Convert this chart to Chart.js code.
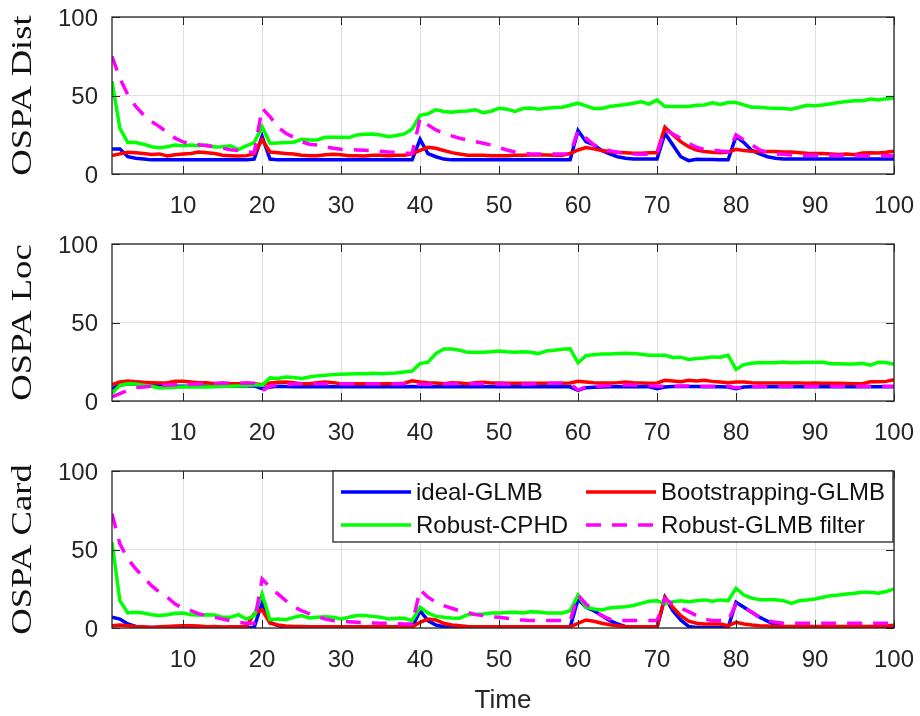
<!DOCTYPE html>
<html>
<head>
<meta charset="utf-8">
<script src="https://cdn.jsdelivr.net/npm/chart.js@4.4.1/dist/chart.umd.min.js"></script>
<style>
  html, body { margin: 0; padding: 0; background: #fff; }
  #wrap { position: relative; width: 920px; height: 716px; }
  .panel { position: absolute; left: 0; width: 920px; }
</style>
</head>
<body>
<div id="wrap">
  <div class="panel" style="top:0;height:227px"><canvas id="distChart"></canvas></div>
  <div class="panel" style="top:227px;height:227px"><canvas id="locChart"></canvas></div>
  <div class="panel" style="top:454px;height:262px"><canvas id="cardChart"></canvas></div>
</div>
<script>
// time steps 1..100
const timeSteps = Array.from({ length: 100 }, (_, i) => i + 1);
const xTicks = [10, 20, 30, 40, 50, 60, 70, 80, 90, 100];
const yTicks = [0, 50, 100];

const seriesNames = ['ideal-GLMB', 'Bootstrapping-GLMB', 'Robust-CPHD', 'Robust-GLMB filter'];
const seriesColors = ['#0000ff', '#ff0000', '#00ff00', '#ff00ff'];

// OSPA Dist
const distIdeal = [
  16, 16, 11, 10, 9.5, 9, 9, 9, 9, 9,
  9, 9, 9, 9, 9, 9, 9, 9, 9.5, 24,
  9.5, 9, 9, 9, 9, 9, 9, 9, 9, 9,
  9, 9, 9, 9, 9, 9, 9, 9, 9, 22,
  13, 11, 9.5, 9, 9, 9, 9, 9, 9, 9,
  9, 9, 9, 9, 9, 9, 9, 9, 9, 27.7,
  20.6, 18.5, 15, 12.8, 11, 10, 9.5, 9.5, 9.5, 9.5,
  26, 18.5, 11, 8.5, 9.4, 9.3, 9.2, 9, 9, 24,
  20, 15, 12.8, 11, 10, 9.5, 9.5, 9.5, 9.5, 9.5,
  9.5, 9.5, 9.5, 9.5, 9.5, 9.5, 9.5, 9.5, 9.5, 9.5
];
const distBoot = [
  11.7, 12.8, 13.8, 13.6, 13, 12.5, 12.8, 11.5, 12.3, 12.8,
  13, 14, 13.6, 13, 12, 11.7, 11.5, 11.7, 12.8, 22,
  14, 13.6, 13, 12.8, 12, 11.7, 11.7, 12.3, 12.5, 12.3,
  11.7, 11.7, 11.5, 11.9, 12, 11.7, 12, 11.9, 12.8, 15,
  17, 16.4, 15, 13.6, 12.8, 12, 11.9, 11.9, 11.7, 11.7,
  11.7, 11.9, 12, 12.1, 12.3, 12.1, 11.9, 12, 13, 15.3,
  16.8, 16, 14.9, 14.3, 13.8, 13.6, 13.2, 13.2, 13.6, 13.6,
  29.8, 25, 20.6, 17.4, 15.3, 14.3, 13.8, 13.6, 14, 15.7,
  14.9, 14.5, 14.3, 14.3, 14.3, 14, 14, 13.6, 13.2, 13,
  13, 12.8, 12.5, 12.8, 12.3, 13.4, 13.6, 13.4, 13.8, 14.5
];
const distCphd = [
  59, 29, 20, 20, 19, 17.4, 16.8, 17.4, 18.5, 18,
  18.5, 18, 18.5, 17.2, 17.4, 18, 15.5, 17.9, 20, 30.2,
  19.6, 19.8, 20, 20.2, 22.1, 21.7, 21.7, 23.4, 23.4, 23.4,
  23.2, 24.9, 25.3, 25.5, 24.9, 23.8, 24.5, 25.5, 28.7, 37.4,
  38.3, 40.9, 39.8, 39.4, 40, 40.2, 40.9, 39.1, 40, 41.9,
  41.3, 39.8, 41.7, 42, 41.3, 41.9, 42.3, 42.5, 43.8, 45.1,
  43.4, 41.7, 41.7, 43, 43.6, 44.3, 45.1, 46, 44.5, 47.2,
  43, 43, 43, 43, 43.8, 44, 45.3, 44.3, 45.5, 45.5,
  44, 42.5, 42.5, 42.1, 41.9, 41.7, 41.3, 42.5, 43.8, 43.4,
  44, 44.7, 45.5, 46.2, 46.6, 46.6, 47.7, 47.2, 47.9, 48.3
];
const distRobust = [
  74.9, 61, 50.4, 43, 37.7, 33.4, 30.2, 26.4, 22.8, 20.4,
  19, 18.7, 18, 17.4, 16.4, 15.5, 14.9, 14.3, 13.6, 41.9,
  36.6, 29.8, 26, 23.4, 20.6, 19, 18.5, 17.4, 16.4, 15.7,
  15.5, 15.3, 15.1, 14.9, 14.5, 14, 13.8, 13.2, 13.2, 35.5,
  31.3, 28.1, 26, 24.3, 22.8, 21.7, 20.6, 19.6, 18.5, 16.8,
  15.3, 14, 13.2, 12.8, 12.8, 12.8, 12.8, 12.8, 12.8, 27.7,
  22.8, 18.5, 16.4, 14.9, 13.8, 13.2, 12.8, 12.6, 12.6, 12.8,
  28.1, 25.5, 22.8, 19.6, 17, 15.7, 15.3, 14.7, 14.3, 24.9,
  21.7, 18.5, 15.3, 13.6, 12.8, 12.6, 12.1, 12, 12, 11.9,
  11.9, 11.9, 11.8, 11.8, 11.8, 11.7, 11.7, 11.7, 11.7, 11.7
];

// OSPA Loc
const locIdeal = [
  7.9, 10, 11, 10.6, 10.2, 10, 9.8, 9.6, 9.4, 9.4,
  9.4, 9.4, 9.4, 9.4, 9.4, 9.4, 9.4, 9.4, 9.6, 7.9,
  8.9, 9.4, 9.2, 9, 9, 9, 9, 9, 9, 9,
  9, 9, 9, 9, 9, 9, 9, 9, 9.2, 9,
  9, 9, 9, 9, 9, 9, 9, 9, 9, 9,
  9, 9, 9, 9, 9, 9, 9, 9, 9, 6.8,
  8.5, 8.7, 8.9, 9, 9, 9, 9, 9, 9, 7.9,
  8.9, 9.2, 9.2, 9.2, 9.2, 9, 9, 9, 8.9, 7.9,
  8.9, 9, 9, 9, 9, 9, 9, 9, 9, 9,
  9, 9, 9, 9, 9, 9, 9, 9, 9, 9
];
const locBoot = [
  10.4, 12.1, 12.8, 12.3, 11.9, 11.7, 11.5, 11.7, 12.6, 12.6,
  12.1, 11.7, 11.7, 11, 11.5, 11, 11, 11.5, 11, 10.4,
  11.5, 11.9, 12.1, 11.7, 11, 11, 11.7, 12.1, 11.7, 11,
  11, 11, 11, 11, 11, 11, 11, 11.3, 12.8, 12.1,
  11.7, 11.5, 11, 11.7, 11.5, 11, 11.7, 11.9, 11.5, 11.5,
  11.3, 11.3, 11.3, 11.3, 11.3, 11.3, 11.3, 11.3, 11.5, 12.5,
  12.1, 11.7, 11.5, 11.5, 11.7, 12.1, 11.7, 11.5, 11.3, 11.5,
  13.2, 12.8, 12.3, 13.2, 12.8, 13.2, 12.5, 12.1, 11.7, 12.1,
  12.1, 11.7, 11.5, 11.5, 11.5, 11.5, 11.5, 11.5, 11.3, 11.5,
  11.3, 11.3, 11.3, 11.1, 11, 11, 12.3, 12.3, 12.5, 13.6
];
const locCphd = [
  4.7, 10, 11, 10.8, 10, 9.4, 8.3, 8.5, 8.7, 8.9,
  9.1, 8.9, 8.9, 9.1, 9.4, 9.4, 9.6, 9.6, 10.4, 10,
  14.7, 14.3, 15.3, 14.9, 14.3, 15.3, 16, 16.4, 16.8, 17,
  17.2, 17.4, 17.4, 17.6, 17.4, 17.6, 17.9, 18.5, 19.1, 23.8,
  24.7, 30.2, 33.2, 33.2, 32.3, 31, 31, 31, 31.3, 31.9,
  31.3, 31, 31.3, 31.1, 30.2, 31.9, 32.3, 33, 33.2, 24.3,
  28.9, 29.4, 30, 30, 30.2, 30.4, 30.2, 29.8, 29.1, 29.1,
  29.1, 27.7, 27.9, 26.4, 27, 27.4, 28.1, 27.9, 29.1, 20.2,
  23.2, 24, 24.5, 24.3, 24.3, 24.9, 24.3, 24.5, 24.7, 24.7,
  24.7, 23.8, 23.8, 23.6, 23.6, 24, 22.8, 24.7, 24.5, 23.4
];
const locRobust = [
  2.6, 4.7, 6.8, 8.5, 8.9, 9.4, 10, 10.2, 10.4, 10.4,
  10.6, 10.8, 11, 11.1, 11.3, 11.3, 11.3, 11.3, 11.3, 6.4,
  9.6, 10.2, 10.4, 10.8, 11, 11, 11, 11, 11, 11,
  11, 11, 11, 11, 11, 11, 11, 11, 11, 10.6,
  10.6, 10.8, 11, 11, 11, 11, 11, 11, 11, 10.8,
  10.6, 10.4, 10.6, 10.8, 11, 11.3, 11.3, 11.5, 11, 7,
  9, 9.4, 9.6, 9.8, 10, 10.2, 10.2, 10, 9.8, 9.4,
  9.4, 9.4, 9.6, 9.6, 9.4, 9.4, 9.4, 9.4, 9.4, 8.5,
  9, 9.2, 9.2, 9.4, 9.4, 9.4, 9.4, 9.4, 9.4, 9.4,
  9.4, 9.4, 9.4, 9.4, 9.4, 9.4, 9.4, 9.4, 9.4, 9.4
];

// OSPA Card
const cardIdeal = [
  6.8, 5.7, 2.6, 1, 0.4, 0.3, 0.3, 0.3, 0.3, 0.3,
  0.3, 0.3, 0.3, 0.3, 0.3, 0.3, 0.3, 0.3, 0.3, 16.4,
  3.6, 1.5, 0.4, 0.3, 0.3, 0.3, 0.3, 0.3, 0.3, 0.3,
  0.3, 0.3, 0.3, 0.3, 0.3, 0.3, 0.3, 0.3, 0.3, 11,
  4.7, 1.9, 0.8, 0.4, 0.3, 0.3, 0.3, 0.3, 0.3, 0.3,
  0.3, 0.3, 0.3, 0.3, 0.3, 0.3, 0.3, 0.3, 0.3, 18.5,
  13.2, 11, 7.9, 4.7, 2.6, 0.8, 0.4, 0.3, 0.3, 0.3,
  19.6, 11, 5.1, 1, 0.4, 0.3, 0.3, 0.3, 0.3, 16.4,
  13.2, 10, 6.8, 4.3, 1.9, 0.8, 0.4, 0.3, 0.3, 0.3,
  0.3, 0.3, 0.3, 0.3, 0.3, 0.3, 0.3, 0.3, 0.3, 0.3
];
const cardBoot = [
  1.5, 1.9, 1.5, 1, 0.8, 0.4, 0.8, 1, 1.3, 1.5,
  1.5, 1.3, 0.8, 1, 0.6, 0.8, 0.8, 1, 9, 11.7,
  3, 1.9, 1.3, 1, 1, 0.8, 0.8, 0.8, 0.8, 0.8,
  0.8, 0.8, 0.8, 0.8, 0.8, 0.8, 0.8, 0.8, 0.8, 3.6,
  5.7, 5.1, 3, 1.9, 1.5, 1, 0.8, 0.8, 0.8, 0.8,
  0.8, 0.8, 0.8, 0.8, 0.8, 0.8, 0.8, 0.8, 0.8, 3,
  5.1, 4.3, 3, 2.1, 1.5, 1, 0.8, 0.8, 0.8, 0.8,
  19.6, 13.2, 7.9, 4.3, 3, 2.6, 2.6, 2.6, 1.5, 3.6,
  2.6, 1.9, 1.5, 1.3, 1, 1, 1, 1, 1, 1,
  1, 1, 1, 1, 1, 1, 1, 1, 1.2, 1.7
];
const cardCphd = [
  54.7, 17.4, 9.6, 10, 9.6, 8.5, 7.9, 8.5, 9.4, 9.6,
  8.5, 8.3, 8.5, 8.3, 6.8, 6.8, 8.5, 5.7, 7.9, 21.7,
  5.3, 5.7, 5.3, 6.8, 7.9, 6.4, 6.8, 7.2, 6.8, 5.7,
  6.8, 7.9, 7.9, 7.4, 6.8, 5.7, 6.2, 6.2, 4.7, 13.2,
  9.6, 7.4, 6.8, 6.4, 6.2, 8.5, 8.7, 8.9, 9.6, 9.6,
  9.8, 10, 9.6, 10.4, 10.2, 9.6, 9.6, 9.6, 11, 21,
  13.2, 12.1, 11.5, 12.8, 13.2, 13.6, 14.3, 15.7, 17, 17.4,
  15.3, 16.8, 17.4, 16.8, 17.4, 17.9, 17, 17.9, 17.4, 25.3,
  21, 19, 18, 18, 18, 17.4, 15.7, 17.4, 17.9, 18.5,
  19.6, 20.6, 21, 21.7, 22.1, 22.8, 22.8, 22.1, 23.2, 24.9
];
const cardRobust = [
  72.8, 53.6, 44, 37.7, 32.3, 27, 22.8, 19.6, 15.3, 12.6,
  11, 9, 7.9, 6.8, 5.7, 4.7, 3.6, 3, 3, 31.3,
  26, 21.7, 17.4, 13.6, 11, 9, 7.2, 5.7, 4.7, 4.3,
  4, 3.6, 3.4, 3.2, 3, 3, 2.8, 2.6, 2.6, 24.3,
  19.6, 16.4, 14.3, 12.6, 11, 10, 8.5, 7.9, 7.2, 6.8,
  6.2, 5.3, 5.1, 4.7, 4.7, 4.7, 4.7, 4.7, 4.7, 21,
  15.3, 11, 7.9, 5.7, 4.7, 4.7, 4.7, 4.7, 4.7, 4.7,
  18.5, 15.3, 12.6, 10.4, 7.9, 5.7, 4.7, 4.7, 4.7, 15.3,
  13.2, 10, 6.8, 4.7, 3.6, 3, 3, 3, 3, 3,
  3, 3, 3, 3, 3, 3, 3, 3, 3, 3
];

Chart.defaults.font.family = "'Liberation Sans', Arial, sans-serif";
Chart.defaults.color = '#262626';

const axisColor = '#262626';
const gridColor = '#dfdfdf';

// box around plot + inward tick marks, like matlab
const boxPlugin = {
  id: 'box',
  afterDatasetsDraw(chart) {
    const ctx = chart.ctx;
    const a = chart.chartArea;
    const xs = chart.scales.x, ys = chart.scales.y;
    const len = 8;
    ctx.save();
    ctx.strokeStyle = axisColor;
    ctx.lineWidth = 1;
    ctx.beginPath();
    xs.ticks.forEach(t => {
      const px = Math.round(xs.getPixelForValue(t.value)) + 0.5;
      ctx.moveTo(px, a.bottom); ctx.lineTo(px, a.bottom - len);
      ctx.moveTo(px, a.top); ctx.lineTo(px, a.top + len);
    });
    ys.ticks.forEach(t => {
      const py = Math.round(ys.getPixelForValue(t.value)) + 0.5;
      ctx.moveTo(a.left, py); ctx.lineTo(a.left + len, py);
      ctx.moveTo(a.right, py); ctx.lineTo(a.right - len, py);
    });
    ctx.stroke();
    ctx.lineWidth = 1.3;
    ctx.strokeRect(a.left, a.top, a.right - a.left, a.bottom - a.top);
    ctx.restore();
  }
};

// y title in a narrow serif, centred on the plot area
const yTitlePlugin = {
  id: 'yTitle',
  afterDraw(chart, args, opts) {
    const ctx = chart.ctx;
    const a = chart.chartArea;
    ctx.save();
    ctx.translate(22, (a.top + a.bottom) / 2);
    ctx.rotate(-Math.PI / 2);
    ctx.scale(1.22, 1);
    ctx.font = "30px 'Liberation Serif', 'Times New Roman', serif";
    ctx.fillStyle = '#111111';
    ctx.textAlign = 'center';
    ctx.textBaseline = 'middle';
    ctx.fillText(opts.text, 0, 1);
    ctx.restore();
  }
};

// legend box drawn inside the plot area of the last panel
const insideLegend = {
  id: 'insideLegend',
  afterDraw(chart, args, opts) {
    if (!opts.show) return;
    const ctx = chart.ctx;
    const a = chart.chartArea;
    const w = 560, h = 71;
    const left = a.right - 1 - w, top = a.top;
    ctx.save();
    ctx.fillStyle = '#ffffff';
    ctx.fillRect(left, top, w, h);
    ctx.strokeStyle = axisColor;
    ctx.lineWidth = 1.3;
    ctx.strokeRect(left, top, w, h);
    const colX = [8, 253];
    const rowY = [21, 54];
    ctx.font = "24px 'Liberation Sans', Arial, sans-serif";
    ctx.textBaseline = 'middle';
    ctx.textAlign = 'left';
    chart.data.datasets.forEach((ds, i) => {
      const x0 = left + colX[i % 2];
      const y0 = top + rowY[Math.floor(i / 2)];
      ctx.strokeStyle = ds.borderColor;
      ctx.lineWidth = ds.borderWidth;
      ctx.setLineDash(ds.borderDash || []);
      ctx.beginPath();
      ctx.moveTo(x0, y0);
      ctx.lineTo(x0 + 70, y0);
      ctx.stroke();
      ctx.setLineDash([]);
      ctx.fillStyle = '#111111';
      ctx.fillText(ds.label, x0 + 75, y0 + 1);
    });
    ctx.restore();
  }
};

function makeDatasets(arrs) {
  return arrs.map((arr, i) => ({
    label: seriesNames[i],
    data: arr,
    borderColor: seriesColors[i],
    backgroundColor: seriesColors[i],
    borderWidth: 3.5,
    borderDash: i === 3 ? [15, 11] : [],
    pointRadius: 0,
    tension: 0,
    order: 4 - i
  }));
}

function makeChart(id, yTitle, arrs, isLast) {
  const xHeight = isLast ? 88 : 53;
  return new Chart(document.getElementById(id), {
    type: 'line',
    data: { labels: timeSteps, datasets: makeDatasets(arrs) },
    plugins: [boxPlugin, insideLegend, yTitlePlugin],
    options: {
      responsive: true,
      maintainAspectRatio: false,
      animation: false,
      layout: { padding: { top: 17, right: 26, left: 0, bottom: 0 } },
      plugins: {
        legend: { display: false },
        tooltip: { enabled: false },
        insideLegend: { show: isLast },
        yTitle: { text: yTitle }
      },
      scales: {
        x: {
          type: 'linear',
          min: 1,
          max: 100,
          afterBuildTicks: s => { s.ticks = xTicks.map(v => ({ value: v })); },
          afterFit: s => { s.height = xHeight; s.paddingLeft = 0; s.paddingRight = 0; },
          grid: { color: gridColor, drawTicks: false },
          border: { display: false },
          ticks: { font: { size: 24 }, padding: 18, maxRotation: 0, color: axisColor },
          title: {
            display: isLast,
            text: 'Time',
            font: { size: 26 },
            color: axisColor,
            padding: { top: 0, bottom: 0 }
          }
        },
        y: {
          min: 0,
          max: 100,
          afterBuildTicks: s => { s.ticks = yTicks.map(v => ({ value: v })); },
          afterFit: s => { s.width = 112; s.paddingTop = 0; s.paddingBottom = 0; },
          grid: { color: gridColor, drawTicks: false },
          border: { display: false },
          ticks: { font: { size: 24 }, padding: 14, labelOffset: 2, color: axisColor }
        }
      }
    }
  });
}

makeChart('distChart', 'OSPA Dist', [distIdeal, distBoot, distCphd, distRobust], false);
makeChart('locChart', 'OSPA Loc', [locIdeal, locBoot, locCphd, locRobust], false);
makeChart('cardChart', 'OSPA Card', [cardIdeal, cardBoot, cardCphd, cardRobust], true);
</script>
</body>
</html>
